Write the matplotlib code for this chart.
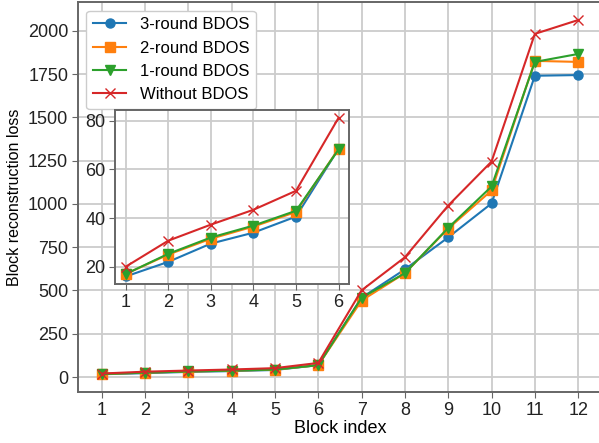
import matplotlib
matplotlib.use("Agg")
import matplotlib.pyplot as plt

plt.rcParams['font.family'] = ['Liberation Sans', 'DejaVu Sans']

blocks = list(range(1, 13))
labels = ['3-round BDOS', '2-round BDOS', '1-round BDOS', 'Without BDOS']
round3 = [16, 22, 29.5, 34, 40.6, 68.5, 458, 622, 807, 1003, 1741, 1745]
round2 = [17, 25, 31.5, 36.5, 42.5, 68.5, 442, 600, 858, 1078, 1827, 1821]
round1 = [17, 25.3, 32, 36.9, 43, 68.2, 458, 600, 862, 1101, 1821, 1867]
without = [20, 30.7, 37.3, 43.4, 51.2, 81.2, 501, 692, 991, 1245, 1983, 2063]

series = [round3, round2, round1, without]
colors = ['#1f77b4', '#ff7f0e', '#2ca02c', '#d62728']
markers = ['o', 's', 'v', 'x']

def style_axes(ax):
    ax.set_facecolor('white')
    ax.grid(True, color='#cccccc', linewidth=1.3)
    ax.set_axisbelow(True)
    for s in ax.spines.values():
        s.set_color('#666666')
        s.set_linewidth(1.4)
    ax.tick_params(colors='#222222', labelsize=13, length=4, color='#666666', pad=3)

fig = plt.figure(figsize=(5.99, 4.43), dpi=100)
ax = fig.add_axes([0.130, 0.115, 0.875, 0.88])
style_axes(ax)
for ys, c, m, lab in zip(series, colors, markers, labels):
    ax.plot(blocks, ys, color=c, marker=m, markersize=6.5, linewidth=1.5, label=lab)
ax.set_xticks(blocks)
ax.set_xlim(0.45, 12.55)
ax.set_ylim(-87, 2166)
ax.set_yticks([0, 250, 500, 750, 1000, 1250, 1500, 1750, 2000])
ax.set_xlabel('Block index', fontsize=13, labelpad=1)
ax.set_ylabel('Block reconstruction loss', fontsize=11.5, labelpad=4)
ax.legend(loc='upper left', fontsize=12, framealpha=1, edgecolor='#cccccc')

# inset with the first six blocks
ins = fig.add_axes([0.192, 0.358, 0.391, 0.394])
style_axes(ins)
for ys, c, m in zip(series, colors, markers):
    ins.plot(blocks[:6], ys[:6], color=c, marker=m, markersize=6.5, linewidth=1.5)
ins.set_xticks(blocks[:6])
ins.set_yticks([20, 40, 60, 80])

fig.savefig('out.png', dpi=100)
